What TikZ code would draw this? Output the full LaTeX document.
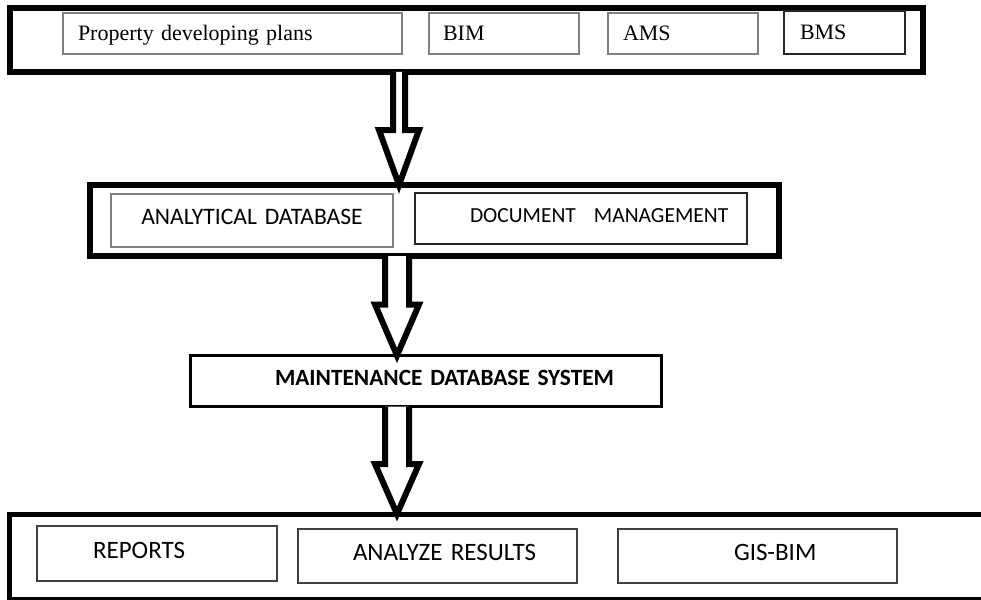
\documentclass[tikz,border=0pt]{standalone}
\usepackage{fontspec}
\setmainfont{Liberation Serif}
\newfontfamily\calib{Carlito}
\usetikzlibrary{calc}
\newcommand\bigarrow[6]{%
  \draw[fatarr] ($(#3 |- #1.south)+(-#4,0)$) -- ($(#3 |- #2.north)+(-#4,-#6)$)
    -- ($(#3 |- #2.north)+(-#5,-#6)$) -- (#3 |- #2.north)
    -- ($(#3 |- #2.north)+(#5,-#6)$) -- ($(#3 |- #2.north)+(#4,-#6)$)
    -- ($(#3 |- #1.south)+(#4,0)$);}
\tikzset{
  frame/.style={draw=black, line width=6, outer sep=0, inner sep=0, fill=white},
  sbox/.style={draw, outer sep=0, inner sep=0, align=left, fill=white},
  serifbox/.style={sbox, draw=black!50, line width=1.5, text height=14.5pt, text depth=0pt,
    font=\fontsize{22}{24}\selectfont},
  midbox/.style={sbox, line width=1.4, text height=15pt, text depth=7pt,
    font=\calib\fontsize{23.6}{26}\selectfont},
  lowbox/.style={sbox, draw=black!75, line width=1.4, text height=16pt, text depth=7pt,
    font=\calib\fontsize{25}{28}\selectfont},
  fatarr/.style={draw=black, line width=6, fill=white, line join=miter}
}
\begin{document}
\begin{tikzpicture}[x=1pt,y=-1pt]
\useasboundingbox (0,0) rectangle (981,599);
% top container
\node[frame, minimum width=913, minimum height=64] (top) at (466,40) {};
\node[serifbox, minimum height=41, text width=339] (p1) at (232.5,33.5) {\hspace*{15pt}Property developing plans};
\node[serifbox, minimum height=41, text width=150] (p2) at (504,33.5) {\hspace*{14pt}BIM};
\node[serifbox, minimum height=41, text width=150] (p3) at (683,33.5) {\hspace*{15pt}AMS};
\node[serifbox, draw=black!85, minimum height=43, text width=121] (p4) at (844.5,32.5) {\hspace*{16pt}BMS};
% middle container
\node[frame, minimum width=689.5, minimum height=71] (mid) at (434.25,220.5) {};
\node[midbox, draw=black!50, minimum height=53, text width=282, align=center] (m1) at (252,220.5) {ANALYTICAL DATABASE};
\node[midbox, draw=black!85, minimum height=51, text width=332, font=\calib\fontsize{21.5}{26}\selectfont] (m2) at (581,218.5) {\hspace*{55pt}DOCUMENT\hspace*{18pt}MANAGEMENT};
% maintenance
\node[midbox, draw=black, line width=3, minimum height=51, text width=471, font=\calib\bfseries\fontsize{23.3}{26}\selectfont] (mnt) at (426,381) {\hspace*{84.5pt}MAINTENANCE DATABASE SYSTEM};
% bottom container
\begin{scope}
\clip (0,0) rectangle (981,599);
\node[frame, line width=5, minimum width=981, minimum height=85] (bot) at (499.5,556.5) {};
\end{scope}
\node[lowbox, minimum height=55, text width=240] (r1) at (157,553.5) {\hspace*{56pt}REPORTS};
\node[lowbox, minimum height=54, text width=279] (r2) at (437.5,556) {\hspace*{55pt}ANALYZE RESULTS};
\node[lowbox, minimum height=54, text width=279] (r3) at (757.5,556) {\hspace*{116pt}GIS-BIM};
% arrows
\coordinate (ax1) at (399,0);
\coordinate (ax2) at (397,0);
\bigarrow{top}{mid}{ax1}{6}{20}{55}
\bigarrow{mid}{mnt}{ax2}{12}{22}{51}
\bigarrow{mnt}{bot}{ax2}{12}{22}{50}
\end{tikzpicture}
\end{document}
